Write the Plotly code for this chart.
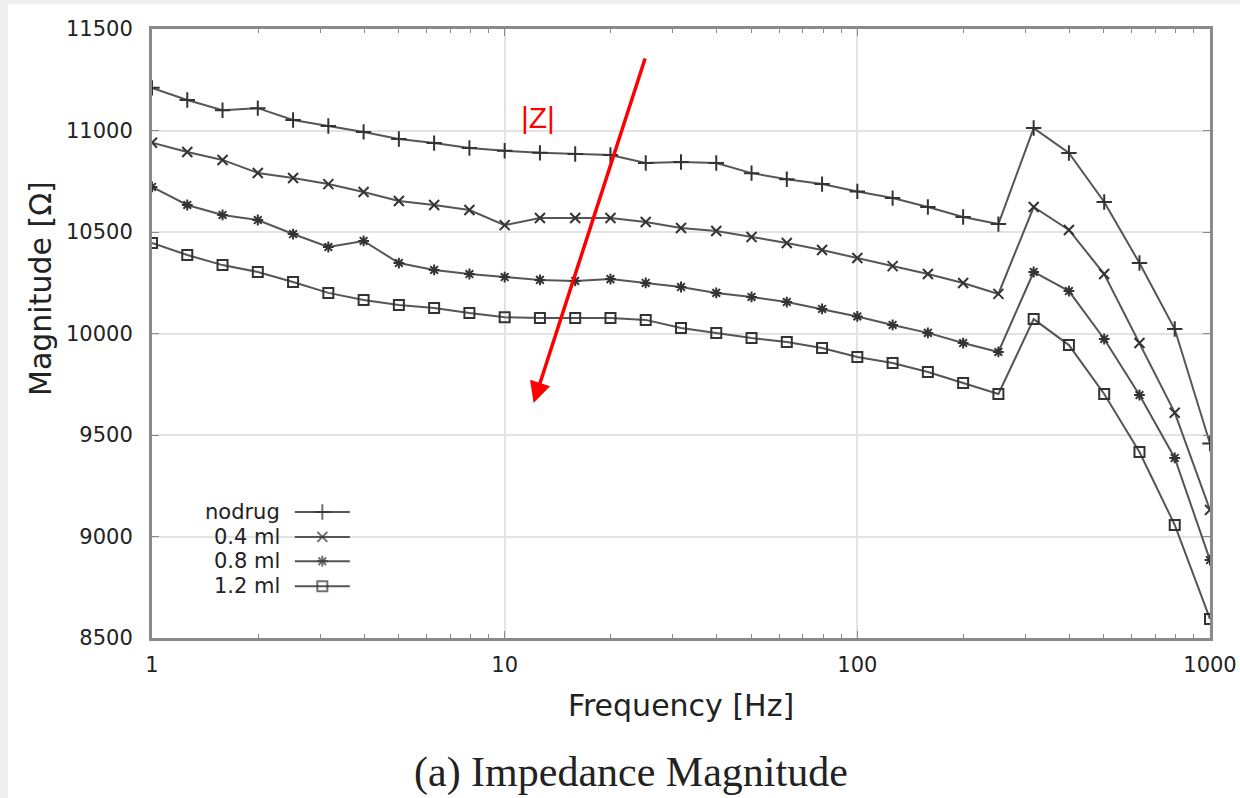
import plotly.graph_objects as go

freq_exp = list(range(0, 31))  # tenths of a decade
freqs = [10 ** (k / 10) for k in freq_exp]

nodrug = [11210, 11150, 11100, 11110, 11052, 11022, 10993, 10958, 10938, 10914,
          10900, 10890, 10884, 10879, 10840, 10845, 10840, 10790, 10760, 10736,
          10700, 10667, 10623, 10574, 10539, 11012, 10889, 10648, 10347, 10022, 9458]
ml04 = [10940, 10894, 10855, 10791, 10766, 10736, 10697, 10653, 10633, 10608,
        10534, 10569, 10569, 10569, 10549, 10520, 10505, 10475, 10446, 10411,
        10372, 10332, 10293, 10249, 10195, 10623, 10510, 10293, 9953, 9610, 9131]
ml08 = [10722, 10633, 10584, 10559, 10490, 10426, 10456, 10347, 10313, 10293,
        10278, 10264, 10259, 10268, 10249, 10229, 10200, 10180, 10155, 10121,
        10084, 10042, 10003, 9953, 9909, 10303, 10209, 9973, 9697, 9387, 8884]
ml12 = [10446, 10387, 10337, 10303, 10254, 10200, 10165, 10140, 10126, 10101,
        10080, 10076, 10076, 10076, 10067, 10027, 10003, 9978, 9958, 9929,
        9884, 9855, 9810, 9756, 9702, 10071, 9943, 9702, 9416, 9057, 8594]

series_names = ["nodrug", "0.4 ml", "0.8 ml", "1.2 ml"]
series_values = [nodrug, ml04, ml08, ml12]
series_symbols = ["cross-thin-open", "x-thin-open", "asterisk-open", "square-open"]
series_sizes = [11, 10, 9, 10]

y_ticks = [8500, 9000, 9500, 10000, 10500, 11000, 11500]
x_ticks = [1, 10, 100, 1000]

LINE = "#555555"
MARK = "#333333"
SANS = "DejaVu Sans, Verdana, sans-serif"
TXT = "#222222"

fig = go.Figure()
for name, vals, sym, sz in zip(series_names, series_values, series_symbols, series_sizes):
    fig.add_trace(go.Scatter(
        x=freqs, y=vals, name=name, mode="lines+markers",
        line=dict(color=LINE, width=2),
        marker=dict(symbol=sym, size=sz, color=MARK, line=dict(color=MARK, width=2)),
        showlegend=False,
    ))

# manual legend (text left, sample right, gnuplot style)
leg_y = [0.207, 0.166, 0.126, 0.085]
for name, sym, sz, ly in zip(series_names, series_symbols, series_sizes, leg_y):
    fig.add_trace(go.Scatter(
        x=[0.135, 0.161, 0.187], y=[ly, ly, ly], mode="lines+markers",
        xaxis="x2", yaxis="y2",
        line=dict(color=LINE, width=2),
        marker=dict(symbol=sym, size=[0, sz, 0], color=MARK, line=dict(color=MARK, width=2)),
        showlegend=False, hoverinfo="skip",
    ))
    fig.add_annotation(x=0.123, y=ly, xref="x2", yref="y2", text=name,
                       showarrow=False, xanchor="right", yanchor="middle",
                       font=dict(family=SANS, size=21, color=TXT))

# red arrow and |Z| label
fig.add_annotation(x=1.082, y=9658, xref="x", yref="y", ax=112, ay=-346,
                   axref="pixel", ayref="pixel", text="", showarrow=True,
                   arrowhead=2, arrowsize=1.2, arrowwidth=3.5, arrowcolor="#ff0000")
fig.add_annotation(x=1.094, y=11062, xref="x", yref="y", text="|Z|", showarrow=False,
                   font=dict(family="Liberation Sans, Arial", size=30, color="#ff0000"))

# y-axis title (placed as in the reference, slightly above centre)
fig.add_annotation(x=(40 - 152) / 1058, y=(638 - 289) / 609, xref="paper", yref="paper",
                   text="Magnitude [Ω]", textangle=-90, showarrow=False,
                   xanchor="center", yanchor="middle",
                   font=dict(family=SANS, size=30, color=TXT))

# caption
fig.add_annotation(x=(631 - 152) / 1058, y=(638 - 772) / 609, xref="paper", yref="paper",
                   text="(a) Impedance Magnitude", showarrow=False,
                   xanchor="center", yanchor="middle",
                   font=dict(family="Liberation Serif, Times New Roman", size=42, color="#222222"))

# page frame (light grey border like the screenshot)
fig.add_shape(type="rect", xref="paper", yref="paper",
              x0=(8 - 152) / 1058, x1=(1240 - 152) / 1058,
              y0=(638 - 798) / 609, y1=(638 - 4) / 609,
              fillcolor="white", line=dict(width=0), layer="below")

fig.update_layout(
    width=1240, height=798,
    margin=dict(l=152, r=30, t=29, b=160),
    paper_bgcolor="#efefef", plot_bgcolor="rgba(0,0,0,0)",
    font=dict(family=SANS, size=16, color=TXT),
    xaxis=dict(
        type="log", range=[0, 3], tickvals=x_ticks, ticktext=[str(v) for v in x_ticks],
        showgrid=True, gridcolor="#e3e3e3", gridwidth=2,
        showline=True, linecolor="#8a8a8a", linewidth=3, mirror="ticks",
        ticks="inside", ticklen=7, tickcolor="#8a8a8a", tickwidth=1,
        minor=dict(ticks="inside", ticklen=4, tickcolor="#8a8a8a", dtick="D1", showgrid=False),
        tickfont=dict(family=SANS, size=21, color=TXT), ticklabelstandoff=6,
        title=dict(text="Frequency [Hz]", font=dict(family=SANS, size=30, color=TXT), standoff=19),
        zeroline=False, automargin=False,
    ),
    yaxis=dict(
        range=[8500, 11500], tickvals=y_ticks, ticktext=[str(v) for v in y_ticks],
        showgrid=True, gridcolor="#e3e3e3", gridwidth=2,
        showline=True, linecolor="#8a8a8a", linewidth=3, mirror="ticks",
        ticks="inside", ticklen=7, tickcolor="#8a8a8a", tickwidth=1,
        tickfont=dict(family=SANS, size=21, color=TXT), ticklabelstandoff=12,
        zeroline=False, automargin=False,
    ),
    xaxis2=dict(domain=[0, 1], range=[0, 1], overlaying="x", visible=False, fixedrange=True),
    yaxis2=dict(domain=[0, 1], range=[0, 1], overlaying="y", visible=False, fixedrange=True, anchor="x2"),
)

fig.write_html("out.html")
